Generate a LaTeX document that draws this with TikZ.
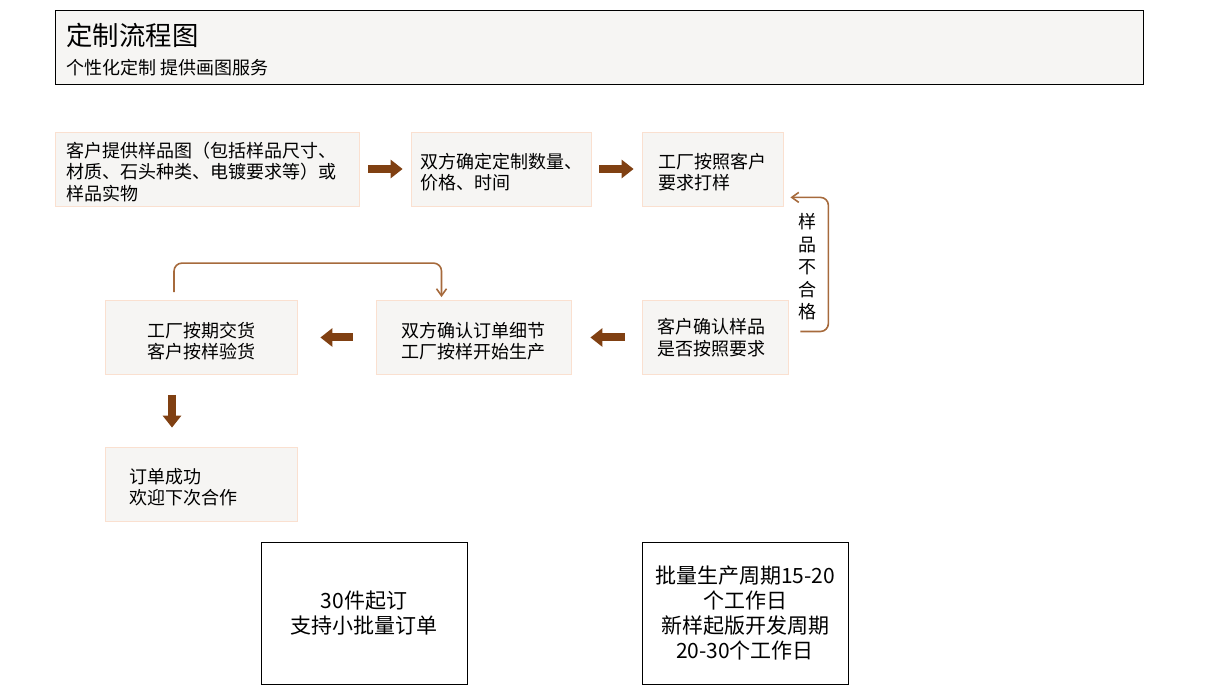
\documentclass[tikz,border=0pt]{standalone}
\usepackage{fontspec}
\setmainfont{Noto Sans CJK SC}
\usetikzlibrary{arrows.meta,positioning,calc}
\definecolor{paper}{RGB}{246,245,243}
\definecolor{peach}{RGB}{250,224,208}
\definecolor{rust}{RGB}{128,64,18}
\definecolor{linebrown}{RGB}{166,106,60}
% taller first line, so the text sits a little lower in its box
\newcommand\topdrop[1]{\setbox0\hbox{国}\rule{0pt}{\dimexpr\ht0+#1\relax}}

\begin{document}
\begin{tikzpicture}[x=0.5pt,y=-0.5pt,
    stepbox/.style={draw=peach, fill=paper, minimum height=37pt, inner sep=0pt, font=\fontsize{9}{10.75}\selectfont},
    notebox/.style={draw=black, fill=white, minimum width=103pt, minimum height=71pt, inner sep=0pt, align=center, font=\fontsize{10.5}{12.5}\selectfont},
    blockarrow/.style={rust, line width=4pt, -{Triangle[length=6pt,width=9pt]}},
    loopline/.style={linebrown, line width=0.8pt, rounded corners=4pt, -{Straight Barb[length=3.5pt,width=5pt]}}]
  \useasboundingbox (0,0) rectangle (1226,694);

  % header
  \node[draw=black, fill=paper, minimum width=544pt, minimum height=37pt, inner sep=0pt] (head) at (599,47) {};
  \node[anchor=west, inner sep=0pt, font=\fontsize{13.2}{15}\selectfont] (title) at (66,35) {定制流程图};
  \node[anchor=west, inner sep=0pt, font=\fontsize{9}{11}\selectfont] (sub) at (66,68) {个性化定制 提供画图服务};

  % steps
  \node[stepbox, text width=141pt, inner xsep=5.5pt, align=left] (sample) at (207,169) {\topdrop{3.5pt}客户提供样品图（包括样品尺寸、\\材质、石头种类、电镀要求等）或\\样品实物};
  \node[stepbox, text width=81pt, inner xsep=4.5pt, align=left] (agree) at (501,169) {\topdrop{3.5pt}双方确定定制数量、\\价格、时间};
  \node[stepbox, text width=54.5pt, inner xsep=8pt, align=left] (proof) at (712.5,169) {\topdrop{3.5pt}工厂按照客户\\要求打样};
  \node[stepbox, text width=58pt, inner xsep=7.5pt, align=left] (check) at (715,337.5) {客户确认样品\\是否按照要求};
  \node[stepbox, text width=97.5pt, align=center] (confirm) at (473.5,337.5) {\topdrop{4pt}双方确认订单细节\\工厂按样开始生产};
  \node[stepbox, text width=96pt, align=center] (deliver) at (201,337.5) {\topdrop{4pt}工厂按期交货\\客户按样验货};
  \node[stepbox, text width=72pt, inner xsep=12pt, align=left] (done) at (201,484) {\topdrop{3.5pt}订单成功\\欢迎下次合作};

  % notes
  \node[notebox] (minorder) at (364,613) {30件起订\\支持小批量订单};
  \node[notebox] (period) at (745,613) {批量生产周期15-20\\个工作日\\新样起版开发周期\\20-30个工作日};

  % arrows
  \draw[blockarrow] ($(sample.east)+(9,0)$) -- ($(agree.west)+(-8,0)$);
  \draw[blockarrow] ($(agree.east)+(8,0)$) -- ($(proof.west)+(-8,0)$);
  \draw[blockarrow] ($(check.west)+(-17,0)$) -- ($(confirm.east)+(19,0)$);
  \draw[blockarrow] ($(confirm.west)+(-23,0)$) -- ($(deliver.east)+(23,0)$);
  \draw[blockarrow] ($(deliver.south)+(-29,20)$) -- ($(done.north)+(-29,-19)$);

  \draw[loopline] ($(check.east)+(12,-6)$) -| ($(proof.south east)+(45,-9)$) -- ($(proof.south east)+(7,-9)$);
  \node[align=center, inner sep=0pt, font=\fontsize{9}{11.25}\selectfont] (reject) at (807,267) {样\\品\\不\\合\\格};
  \draw[loopline] ($(deliver.north)+(-27,-8)$) |- ($(confirm.north)+(-32,-37)$) -- ($(confirm.north)+(-32,-3)$);
\end{tikzpicture}
\end{document}
